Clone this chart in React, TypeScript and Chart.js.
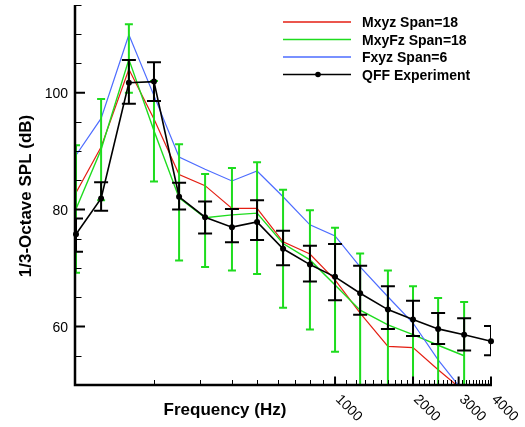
import { useEffect, useRef } from "react";
import { Chart, registerables } from "chart.js";

Chart.register(...registerables);

const FONT = '"Liberation Sans", Arial, Helvetica, sans-serif';

const frequencies = [100, 125, 160, 200, 250, 315, 400, 500, 630, 800, 1000, 1250, 1600, 2000, 2500, 3150, 4000];
const mxyz = [82.9, 90.7, 104.0, 95.5, 86.0, 84.1, 80.2, 80.2, 74.5, 72.4, 68.0, 62.3, 56.6, 56.4, 52.6, 48.9, 45.0];
const mxyfz = [80.1, 90.3, 105.7, 93.5, 82.0, 78.6, 79.1, 79.4, 74.2, 71.4, 67.1, 62.8, 60.3, 58.6, 56.8, 55.0, null];
const mxyfzLow = [69.2, 81.6, 100.0, 84.8, 71.3, 70.2, 69.6, 69.0, 63.2, 59.5, 55.7, 40, 40, 40, 40, 40, null];
const mxyfzHigh = [91.0, 98.9, 111.7, 102.0, 91.2, 86.1, 87.1, 88.1, 83.4, 79.9, 76.9, 72.5, 69.6, 66.9, 64.9, 64.2, null];
const fxyz = [89.3, 95.6, 109.9, 99.5, 89.0, 86.9, 84.9, 86.6, 82.2, 77.4, 75.5, 70.2, 65.1, 60.6, 54.3, 48.7, 44.0];
const qff = [75.8, 81.9, 101.7, 101.9, 82.2, 78.7, 77.0, 77.9, 73.3, 70.6, 68.5, 65.7, 62.9, 61.2, 59.6, 58.6, 57.5];
const qffLow = [72.8, 79.8, 98.1, 98.6, 80.0, 75.9, 74.4, 74.8, 70.5, 67.7, 64.5, 62.0, 59.6, 58.4, 57.0, 55.9, 55.1];
const qffHigh = [78.5, 84.7, 105.6, 105.2, 84.6, 81.4, 80.1, 81.6, 76.4, 73.8, 74.1, 70.4, 66.9, 64.4, 62.3, 61.4, 60.1];

const xLabels = [1000, 2000, 3000, 4000];
const xMinorTicks = [200, 300, 400, 500, 600, 700, 800, 900, 1100, 1200, 1300, 1400, 1500, 1600, 1700, 1800, 1900, 2100, 2200, 2300, 2400, 2500, 2600, 2700, 2800, 2900, 3100, 3200, 3300, 3400, 3500, 3600, 3700, 3800, 3900];
const yLabels = [60, 80, 100];
const yMinorTicks = [55, 65, 70, 75, 85, 90, 95, 105, 110, 115];

const seriesNames = ["Mxyz Span=18", "MxyFz Span=18", "Fxyz Span=6", "QFF Experiment"];

const RED = "#e41e12";
const GREEN = "#1edc1e";
const BLUE = "#4d6cff";
const BLACK = "#000000";
const seriesColors = [RED, GREEN, BLUE, BLACK];

const pts = (vals: (number | null)[]) =>
  frequencies.map((f, i) => ({ x: f, y: vals[i] }));

const errorBarsPlugin = {
  id: "errorBars",
  beforeDatasetDraw(chart: any, args: any) {
    if (args.index !== 0) return;
    const { ctx, chartArea: a } = chart;
    const xs = chart.scales.x;
    const ys = chart.scales.y;
    ctx.save();
    ctx.beginPath();
    ctx.rect(a.left, a.top, a.right - a.left, a.bottom - a.top);
    ctx.clip();
    const drawBars = (lo: (number | null)[], hi: (number | null)[], color: string, half: number, lw: number) => {
      ctx.strokeStyle = color;
      ctx.lineWidth = lw;
      frequencies.forEach((f, i) => {
        const l = lo[i];
        const h = hi[i];
        if (l == null || h == null) return;
        const x = xs.getPixelForValue(f);
        const y1 = ys.getPixelForValue(l);
        const y2 = ys.getPixelForValue(h);
        ctx.beginPath();
        ctx.moveTo(x, y1);
        ctx.lineTo(x, y2);
        ctx.moveTo(x - half, y1);
        ctx.lineTo(x + half, y1);
        ctx.moveTo(x - half, y2);
        ctx.lineTo(x + half, y2);
        ctx.stroke();
      });
    };
    drawBars(mxyfzLow, mxyfzHigh, GREEN, 4, 2);
    drawBars(qffLow, qffHigh, BLACK, 7, 2);
    ctx.restore();
  },
};

const axesPlugin = {
  id: "axesDeco",
  afterDraw(chart: any) {
    const { ctx, chartArea: a } = chart;
    const xs = chart.scales.x;
    const ys = chart.scales.y;
    ctx.save();
    ctx.strokeStyle = "#000";
    ctx.fillStyle = "#000";
    ctx.lineCap = "butt";

    // axis lines
    ctx.lineWidth = 2.5;
    ctx.beginPath();
    ctx.moveTo(a.left - 1, a.top);
    ctx.lineTo(a.left - 1, a.bottom + 1.2);
    ctx.moveTo(a.left - 2.2, a.bottom);
    ctx.lineTo(a.right + 1, a.bottom);
    ctx.stroke();

    // x ticks (inward)
    ctx.lineWidth = 1;
    ctx.beginPath();
    xMinorTicks.forEach((v) => {
      const x = Math.round(xs.getPixelForValue(v)) + 0.5;
      ctx.moveTo(x, a.bottom);
      ctx.lineTo(x, a.bottom - 5);
    });
    ctx.stroke();
    ctx.lineWidth = 2;
    ctx.beginPath();
    xLabels.forEach((v) => {
      const x = xs.getPixelForValue(v);
      ctx.moveTo(x, a.bottom);
      ctx.lineTo(x, a.bottom - 8.5);
    });
    ctx.stroke();

    // y ticks (inward)
    ctx.lineWidth = 1;
    ctx.beginPath();
    yMinorTicks.forEach((v) => {
      const y = Math.round(ys.getPixelForValue(v)) + 0.5;
      ctx.moveTo(a.left, y);
      ctx.lineTo(a.left + 5.5, y);
    });
    ctx.stroke();
    ctx.lineWidth = 2;
    ctx.beginPath();
    yLabels.forEach((v) => {
      const y = ys.getPixelForValue(v);
      ctx.moveTo(a.left, y);
      ctx.lineTo(a.left + 9, y);
    });
    ctx.stroke();

    // y tick labels
    ctx.font = `14px ${FONT}`;
    ctx.textAlign = "right";
    ctx.textBaseline = "alphabetic";
    yLabels.forEach((v) => {
      const y = ys.getPixelForValue(v);
      ctx.fillText(String(v), a.left - 8, y + 5);
    });

    // x tick labels, rotated 45 deg clockwise
    ctx.textAlign = "left";
    xLabels.forEach((v) => {
      const x = xs.getPixelForValue(v);
      ctx.save();
      ctx.translate(x, a.bottom + 15);
      ctx.rotate(Math.PI / 4);
      ctx.fillText(String(v), 0, 0);
      ctx.restore();
    });

    // axis titles
    ctx.font = `bold 17px ${FONT}`;
    ctx.textAlign = "center";
    ctx.fillText("Frequency (Hz)", 225, 415);
    ctx.save();
    ctx.translate(31, 196);
    ctx.rotate(-Math.PI / 2);
    ctx.fillText("1/3-Octave SPL (dB)", 0, 0);
    ctx.restore();

    // legend
    const legendY = [22, 39.5, 57, 74.5];
    ctx.font = `bold 14px ${FONT}`;
    ctx.textAlign = "left";
    seriesNames.forEach((name, i) => {
      const y = legendY[i];
      ctx.strokeStyle = seriesColors[i];
      ctx.lineWidth = 1.6;
      ctx.beginPath();
      ctx.moveTo(283, y);
      ctx.lineTo(351, y);
      ctx.stroke();
      if (i === 3) {
        ctx.fillStyle = BLACK;
        ctx.beginPath();
        ctx.arc(318, y, 2.8, 0, Math.PI * 2);
        ctx.fill();
      }
      ctx.fillStyle = "#000";
      ctx.fillText(name, 362, y + 5.3);
    });

    ctx.restore();
  },
};

export default function App() {
  const ref = useRef<HTMLCanvasElement>(null);
  useEffect(() => {
    const canvas = ref.current;
    if (!canvas) return;
    const chart = new Chart(canvas, {
      type: "line",
      data: {
        datasets: [
          {
            label: seriesNames[3],
            data: pts(qff),
            borderColor: BLACK,
            backgroundColor: BLACK,
            borderWidth: 1.6,
            pointRadius: 3,
            pointBorderWidth: 0,
            pointBackgroundColor: BLACK,
            order: 0,
            clip: false,
          },
          {
            label: seriesNames[2],
            data: pts(fxyz),
            borderColor: BLUE,
            borderWidth: 1.2,
            pointRadius: 0,
            order: 1,
          },
          {
            label: seriesNames[1],
            data: pts(mxyfz),
            borderColor: GREEN,
            borderWidth: 1.4,
            pointRadius: 0,
            spanGaps: false,
            order: 2,
          },
          {
            label: seriesNames[0],
            data: pts(mxyz),
            borderColor: RED,
            borderWidth: 1.2,
            pointRadius: 0,
            order: 3,
          },
        ],
      } as any,
      options: {
        responsive: false,
        animation: false,
        devicePixelRatio: 1,
        layout: { padding: { left: 76, right: 34, top: 5, bottom: 42 } },
        elements: { line: { tension: 0 } },
        scales: {
          x: { type: "logarithmic", min: 100, max: 4000, display: false },
          y: { type: "linear", min: 50, max: 115, display: false },
        },
        plugins: {
          legend: { display: false },
          tooltip: { enabled: false },
          title: { display: false },
        },
      } as any,
      plugins: [errorBarsPlugin, axesPlugin],
    });
    return () => chart.destroy();
  }, []);
  return (
    <div style={{ position: "fixed", left: 0, top: 0, width: 525, height: 427, background: "#fff" }}>
      <canvas ref={ref} width={525} height={427} style={{ width: 525, height: 427, display: "block" }} />
    </div>
  );
}
